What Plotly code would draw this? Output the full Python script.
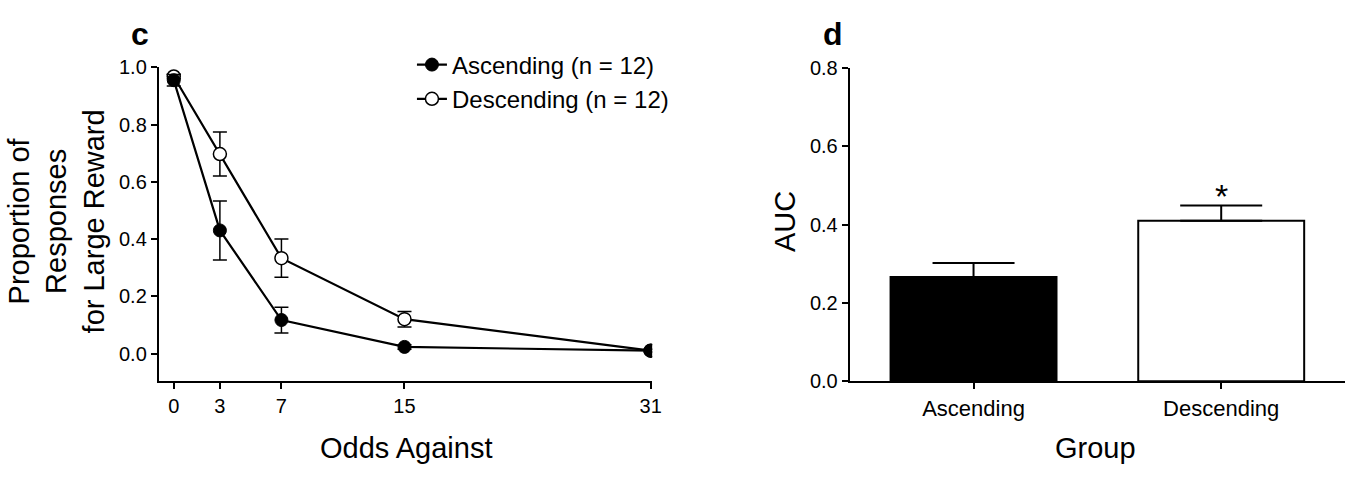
import plotly.graph_objects as go

# ---------------- data ----------------
odds = [0, 3, 7, 15, 31]
odds_ticks = [0, 3, 7, 15, 31]

asc_name = "Ascending (n = 12)"
asc_mean = [0.955, 0.430, 0.117, 0.023, 0.010]
asc_sem = [0.020, 0.103, 0.045, 0.008, 0.005]

desc_name = "Descending (n = 12)"
desc_mean = [0.968, 0.697, 0.333, 0.120, 0.010]
desc_sem = [0.008, 0.077, 0.067, 0.027, 0.005]

groups = ["Ascending", "Descending"]
auc_mean = [0.266, 0.410]
auc_sem = [0.036, 0.039]
auc_colors = ["black", "white"]
sig_marks = ["", "*"]

left_yticks = [0.0, 0.2, 0.4, 0.6, 0.8, 1.0]
right_yticks = [0.0, 0.2, 0.4, 0.6, 0.8]

FONT = "Liberation Sans, Arial, Helvetica, sans-serif"
W, H = 1360, 479

fig = go.Figure()

# Descending first so the filled markers sit on top
fig.add_trace(go.Scatter(
    x=odds, y=desc_mean, name=desc_name, mode="lines+markers",
    line=dict(color="black", width=2.2),
    marker=dict(symbol="circle", size=13, color="white",
                line=dict(color="black", width=1.5)),
    error_y=dict(type="data", array=desc_sem, visible=True,
                 color="black", thickness=1.5, width=7),
    legendrank=2, xaxis="x", yaxis="y",
))
fig.add_trace(go.Scatter(
    x=odds, y=asc_mean, name=asc_name, mode="lines+markers",
    line=dict(color="black", width=2.2),
    marker=dict(symbol="circle", size=13, color="black",
                line=dict(color="black", width=1)),
    error_y=dict(type="data", array=asc_sem, visible=True,
                 color="black", thickness=1.5, width=7),
    legendrank=1, xaxis="x", yaxis="y",
))

fig.add_trace(go.Bar(
    x=groups, y=auc_mean, width=0.67, showlegend=False,
    marker=dict(color=auc_colors, line=dict(color="black", width=2)),
    error_y=dict(type="data", array=auc_sem, arrayminus=[0] * len(auc_sem),
                 symmetric=False, visible=True, color="black",
                 thickness=2, width=41),
    xaxis="x2", yaxis="y2",
))

def axis_style(size=20):
    return dict(
        showline=True, linecolor="black", linewidth=2,
        ticks="outside", ticklen=6, tickwidth=2, tickcolor="black",
        showgrid=False, zeroline=False,
        tickfont=dict(family=FONT, size=size, color="black"),
    )

ybot, ytop_l, ytop_r = 388, 59, 60

fig.update_layout(
    width=W, height=H,
    margin=dict(l=0, r=0, t=0, b=0),
    paper_bgcolor="white", plot_bgcolor="white",
    font=dict(family=FONT, color="black"),
    showlegend=True,
    legend=dict(x=415 / W, y=1 - 33 / H, xanchor="left", yanchor="top",
                font=dict(family=FONT, size=24, color="black"),
                bgcolor="rgba(0,0,0,0)", itemwidth=30),
    xaxis=dict(domain=[160 / W, 657 / W], range=[-0.97, 31.1],
               tickvals=odds_ticks, anchor="y", **axis_style(20)),
    yaxis=dict(domain=[1 - ybot / H, 1 - ytop_l / H], range=[-0.0967, 1.0],
               tickvals=left_yticks, tickformat=".1f", anchor="x",
               **axis_style(20)),
    xaxis2=dict(domain=[856 / W, 1355 / W], range=[-0.5, 1.5],
                type="category", anchor="y2", **axis_style(22)),
    yaxis2=dict(domain=[1 - ybot / H, 1 - ytop_r / H], range=[0, 0.8],
                tickvals=right_yticks, tickformat=".1f", anchor="x2",
                **axis_style(20)),
)

def ann(text, x, y, size, angle=0, bold=False):
    fig.add_annotation(
        text=f"<b>{text}</b>" if bold else text,
        x=x / W, y=1 - y / H, xref="paper", yref="paper",
        showarrow=False, textangle=angle,
        font=dict(family=FONT, size=size, color="black"),
        xanchor="center", yanchor="middle")

ann("c", 141, 24, 32, bold=True)
ann("d", 839, 24, 32, bold=True)
ann("Odds Against", 410, 458, 29)
ann("Group", 1104, 458, 29)
ann("Proportion of<br>Responses<br>for Large Reward", 57, 221, 29, angle=-90)
ann("AUC", 791, 221, 29, angle=-90)

for g, m, e, s in zip(groups, auc_mean, auc_sem, sig_marks):
    if s:
        fig.add_annotation(text=s, x=g, y=m + e, xref="x2", yref="y2",
                           showarrow=False, yanchor="middle", yshift=10,
                           font=dict(family=FONT, size=34, color="black"))

fig.write_html("out.html", config={"displayModeBar": False},
               post_script="document.body.style.margin='0';")
